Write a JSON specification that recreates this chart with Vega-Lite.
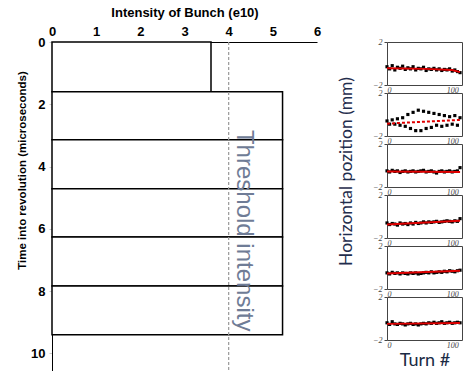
{
  "$schema": "https://vega.github.io/schema/vega-lite/v6.json",
  "padding": {"left": 16, "top": 6, "right": 0, "bottom": 0},
  "background": "white",
  "config": {"view": {"stroke": null}, "font": "Liberation Sans"},
  "spacing": 16,
  "datasets": {
    "bars": [
      {"start": 0, "end": 1.6, "intensity": 3.6},
      {"start": 1.6, "end": 3.14, "intensity": 5.22},
      {"start": 3.14, "end": 4.71, "intensity": 5.22},
      {"start": 4.71, "end": 6.26, "intensity": 5.22},
      {"start": 6.26, "end": 7.84, "intensity": 5.22},
      {"start": 7.84, "end": 9.4, "intensity": 5.22}
    ],
    "threshold": [{"value": 4, "label": "Threshold intensity"}],
    "pos": [
      {"p":1,"t":0,"x":-0.3},{"p":1,"t":4,"x":-0.5},{"p":1,"t":8,"x":-0.2},{"p":1,"t":12,"x":-0.6},{"p":1,"t":16,"x":-0.35},{"p":1,"t":20,"x":-0.45},{"p":1,"t":24,"x":-0.25},{"p":1,"t":28,"x":-0.55},{"p":1,"t":32,"x":-0.4},{"p":1,"t":36,"x":-0.5},{"p":1,"t":40,"x":-0.3},{"p":1,"t":44,"x":-0.6},{"p":1,"t":48,"x":-0.45},{"p":1,"t":52,"x":-0.5},{"p":1,"t":56,"x":-0.35},{"p":1,"t":60,"x":-0.65},{"p":1,"t":64,"x":-0.5},{"p":1,"t":68,"x":-0.55},{"p":1,"t":72,"x":-0.45},{"p":1,"t":76,"x":-0.6},{"p":1,"t":80,"x":-0.5},{"p":1,"t":84,"x":-0.65},{"p":1,"t":88,"x":-0.55},{"p":1,"t":92,"x":-0.6},{"p":1,"t":96,"x":-0.5},{"p":1,"t":100,"x":-0.7},{"p":1,"t":104,"x":-0.6},{"p":1,"t":108,"x":-0.75},{"p":1,"t":112,"x":-0.85},
      {"p":2,"t":0,"x":-0.6},{"p":2,"t":4,"x":-0.9},{"p":2,"t":8,"x":-0.5},{"p":2,"t":12,"x":-0.9},{"p":2,"t":16,"x":-0.4},{"p":2,"t":20,"x":-1.0},{"p":2,"t":24,"x":-0.3},{"p":2,"t":28,"x":-1.1},{"p":2,"t":32,"x":0.0},{"p":2,"t":36,"x":-1.3},{"p":2,"t":40,"x":0.2},{"p":2,"t":44,"x":-1.5},{"p":2,"t":48,"x":0.4},{"p":2,"t":52,"x":-1.5},{"p":2,"t":56,"x":0.3},{"p":2,"t":60,"x":-1.3},{"p":2,"t":64,"x":0.2},{"p":2,"t":68,"x":-1.2},{"p":2,"t":72,"x":0.1},{"p":2,"t":76,"x":-1.0},{"p":2,"t":80,"x":0.0},{"p":2,"t":84,"x":-1.1},{"p":2,"t":88,"x":-0.1},{"p":2,"t":92,"x":-1.0},{"p":2,"t":96,"x":-0.2},{"p":2,"t":100,"x":-0.9},{"p":2,"t":104,"x":-0.1},{"p":2,"t":108,"x":-1.0},{"p":2,"t":112,"x":-0.3},
      {"p":3,"t":0,"x":-0.5},{"p":3,"t":4,"x":-0.6},{"p":3,"t":8,"x":-0.45},{"p":3,"t":12,"x":-0.55},{"p":3,"t":16,"x":-0.5},{"p":3,"t":20,"x":-0.65},{"p":3,"t":24,"x":-0.55},{"p":3,"t":28,"x":-0.5},{"p":3,"t":32,"x":-0.6},{"p":3,"t":36,"x":-0.55},{"p":3,"t":40,"x":-0.5},{"p":3,"t":44,"x":-0.6},{"p":3,"t":48,"x":-0.55},{"p":3,"t":52,"x":-0.5},{"p":3,"t":56,"x":-0.45},{"p":3,"t":60,"x":-0.6},{"p":3,"t":64,"x":-0.55},{"p":3,"t":68,"x":-0.5},{"p":3,"t":72,"x":-0.6},{"p":3,"t":76,"x":-0.7},{"p":3,"t":80,"x":-0.55},{"p":3,"t":84,"x":-0.5},{"p":3,"t":88,"x":-0.6},{"p":3,"t":92,"x":-0.55},{"p":3,"t":96,"x":-0.5},{"p":3,"t":100,"x":-0.6},{"p":3,"t":104,"x":-0.55},{"p":3,"t":108,"x":-0.5},{"p":3,"t":112,"x":-0.2},
      {"p":4,"t":0,"x":-0.6},{"p":4,"t":4,"x":-0.75},{"p":4,"t":8,"x":-0.65},{"p":4,"t":12,"x":-0.7},{"p":4,"t":16,"x":-0.8},{"p":4,"t":20,"x":-0.6},{"p":4,"t":24,"x":-0.7},{"p":4,"t":28,"x":-0.65},{"p":4,"t":32,"x":-0.75},{"p":4,"t":36,"x":-0.6},{"p":4,"t":40,"x":-0.7},{"p":4,"t":44,"x":-0.55},{"p":4,"t":48,"x":-0.65},{"p":4,"t":52,"x":-0.6},{"p":4,"t":56,"x":-0.5},{"p":4,"t":60,"x":-0.6},{"p":4,"t":64,"x":-0.5},{"p":4,"t":68,"x":-0.55},{"p":4,"t":72,"x":-0.5},{"p":4,"t":76,"x":-0.45},{"p":4,"t":80,"x":-0.55},{"p":4,"t":84,"x":-0.5},{"p":4,"t":88,"x":-0.45},{"p":4,"t":92,"x":-0.4},{"p":4,"t":96,"x":-0.45},{"p":4,"t":100,"x":-0.5},{"p":4,"t":104,"x":-0.4},{"p":4,"t":108,"x":-0.45},{"p":4,"t":112,"x":-0.2},
      {"p":5,"t":0,"x":-0.5},{"p":5,"t":4,"x":-0.6},{"p":5,"t":8,"x":-0.45},{"p":5,"t":12,"x":-0.55},{"p":5,"t":16,"x":-0.5},{"p":5,"t":20,"x":-0.6},{"p":5,"t":24,"x":-0.5},{"p":5,"t":28,"x":-0.55},{"p":5,"t":32,"x":-0.6},{"p":5,"t":36,"x":-0.5},{"p":5,"t":40,"x":-0.55},{"p":5,"t":44,"x":-0.5},{"p":5,"t":48,"x":-0.6},{"p":5,"t":52,"x":-0.55},{"p":5,"t":56,"x":-0.5},{"p":5,"t":60,"x":-0.45},{"p":5,"t":64,"x":-0.5},{"p":5,"t":68,"x":-0.4},{"p":5,"t":72,"x":-0.5},{"p":5,"t":76,"x":-0.45},{"p":5,"t":80,"x":-0.4},{"p":5,"t":84,"x":-0.45},{"p":5,"t":88,"x":-0.35},{"p":5,"t":92,"x":-0.4},{"p":5,"t":96,"x":-0.3},{"p":5,"t":100,"x":-0.35},{"p":5,"t":104,"x":-0.4},{"p":5,"t":108,"x":-0.3},{"p":5,"t":112,"x":-0.25},
      {"p":6,"t":0,"x":-0.4},{"p":6,"t":4,"x":-0.55},{"p":6,"t":8,"x":-0.3},{"p":6,"t":12,"x":-0.5},{"p":6,"t":16,"x":-0.55},{"p":6,"t":20,"x":-0.45},{"p":6,"t":24,"x":-0.5},{"p":6,"t":28,"x":-0.6},{"p":6,"t":32,"x":-0.5},{"p":6,"t":36,"x":-0.45},{"p":6,"t":40,"x":-0.55},{"p":6,"t":44,"x":-0.5},{"p":6,"t":48,"x":-0.6},{"p":6,"t":52,"x":-0.5},{"p":6,"t":56,"x":-0.45},{"p":6,"t":60,"x":-0.5},{"p":6,"t":64,"x":-0.4},{"p":6,"t":68,"x":-0.45},{"p":6,"t":72,"x":-0.35},{"p":6,"t":76,"x":-0.45},{"p":6,"t":80,"x":-0.4},{"p":6,"t":84,"x":-0.3},{"p":6,"t":88,"x":-0.45},{"p":6,"t":92,"x":-0.4},{"p":6,"t":96,"x":-0.35},{"p":6,"t":100,"x":-0.45},{"p":6,"t":104,"x":-0.4},{"p":6,"t":108,"x":-0.35},{"p":6,"t":112,"x":-0.4}
    ],
    "fit": [
      {"p":1,"t":0,"y":-0.45},{"p":1,"t":60,"y":-0.5},{"p":1,"t":100,"y":-0.6},{"p":1,"t":112,"y":-0.8},
      {"p":2,"t":0,"y":-0.85},{"p":2,"t":112,"y":-0.5},
      {"p":3,"t":0,"y":-0.55},{"p":3,"t":112,"y":-0.6},
      {"p":4,"t":0,"y":-0.75},{"p":4,"t":112,"y":-0.4},
      {"p":5,"t":0,"y":-0.55},{"p":5,"t":112,"y":-0.3},
      {"p":6,"t":0,"y":-0.5},{"p":6,"t":112,"y":-0.42}
    ]
  },
  "hconcat": [
    {
      "width": 265,
      "height": 330,
      "layer": [
        {
          "data": {"name": "bars"},
          "mark": {"type": "rect", "fill": "white", "stroke": "black", "strokeWidth": 1.5},
          "encoding": {
            "x": {"field": "intensity", "type": "quantitative",
              "scale": {"domain": [0, 6], "nice": false},
              "axis": {"orient": "top", "values": [0,1,2,3,4,5,6], "title": "Intensity of Bunch (e10)",
                "titleFontSize": 13, "titleFontWeight": "bold", "titleColor": "black", "titlePadding": 6,
                "labelFontSize": 13, "labelFontWeight": "bold", "labelColor": "black", "labelFlush": false,
                "ticks": false, "labelPadding": 4, "grid": false, "domainColor": "black"}},
            "x2": {"datum": 0},
            "y": {"field": "start", "type": "quantitative",
              "scale": {"domain": [0, 10.6], "reverse": true, "nice": false},
              "axis": {"values": [0,2,4,6,8,10], "title": "Time into revolution (microseconds)",
                "titleFontSize": 11.5, "titleFontWeight": "bold", "titleColor": "black", "titlePadding": 3, "titleY": 128,
                "labelFontSize": 13, "labelFontWeight": "bold", "labelColor": "black",
                "tickSize": 3, "tickColor": "#cccccc", "labelPadding": 4, "grid": false, "domainColor": "black"}},
            "y2": {"field": "end"}
          }
        },
        {
          "data": {"name": "threshold"},
          "mark": {"type": "rule", "strokeDash": [3, 2], "color": "#999999", "strokeWidth": 1.2},
          "encoding": {"x": {"field": "value", "type": "quantitative"}}
        },
        {
          "data": {"name": "threshold"},
          "mark": {"type": "text", "angle": 90, "fontSize": 24, "color": "#6f7c96", "align": "center", "baseline": "alphabetic"},
          "encoding": {
            "x": {"datum": 4.19, "type": "quantitative"},
            "y": {"datum": 6.06, "type": "quantitative"},
            "text": {"field": "label"}
          }
        }
      ]
    },
    {
      "spacing": 8,
      "bounds": "flush",
      "vconcat": [
        {
          "width": 75, "height": 43, "view": {"stroke": "#444444"},
          "layer": [
            {"data": {"name": "pos"}, "transform": [{"filter": "datum.p == 1"}], "mark": {"type": "square", "size": 10, "color": "black", "opacity": 1},
              "encoding": {
                "x": {"field": "t", "type": "quantitative", "scale": {"domain": [0, 115], "nice": false},
                  "axis": {"values": [0, 100], "title": null, "labelFont": "Liberation Serif", "labelFontStyle": "italic", "labelFontSize": 8, "labelColor": "#444444", "ticks": false, "domain": false, "grid": false, "labelPadding": 1}},
                "y": {"field": "x", "type": "quantitative", "scale": {"domain": [-2, 2], "nice": false},
                  "axis": {"values": [-2, 0, 2], "title": null, "labelFont": "Liberation Serif", "labelFontStyle": "italic", "labelFontSize": 8, "labelColor": "#444444", "tickSize": 3, "tickColor": "#444444", "domain": false, "grid": false, "labelPadding": 2}}
              }},
            {"data": {"name": "fit"}, "transform": [{"filter": "datum.p == 1"}], "mark": {"type": "line", "color": "#e00000", "strokeWidth": 2},
              "encoding": {"x": {"field": "t", "type": "quantitative"}, "y": {"field": "y", "type": "quantitative"}}}
          ]
        },
        {
          "width": 75, "height": 43, "view": {"stroke": "#444444"},
          "layer": [
            {"data": {"name": "pos"}, "transform": [{"filter": "datum.p == 2"}], "mark": {"type": "square", "size": 10, "color": "black", "opacity": 1},
              "encoding": {
                "x": {"field": "t", "type": "quantitative", "scale": {"domain": [0, 115], "nice": false},
                  "axis": {"values": [0, 100], "title": null, "labelFont": "Liberation Serif", "labelFontStyle": "italic", "labelFontSize": 8, "labelColor": "#444444", "ticks": false, "domain": false, "grid": false, "labelPadding": 1}},
                "y": {"field": "x", "type": "quantitative", "scale": {"domain": [-2, 2], "nice": false},
                  "axis": {"values": [-2, 0, 2], "title": null, "labelFont": "Liberation Serif", "labelFontStyle": "italic", "labelFontSize": 8, "labelColor": "#444444", "tickSize": 3, "tickColor": "#444444", "domain": false, "grid": false, "labelPadding": 2}}
              }},
            {"data": {"name": "fit"}, "transform": [{"filter": "datum.p == 2"}], "mark": {"type": "line", "color": "#e00000", "strokeWidth": 2, "strokeDash": [3, 2]},
              "encoding": {"x": {"field": "t", "type": "quantitative"}, "y": {"field": "y", "type": "quantitative"}}}
          ]
        },
        {
          "width": 75, "height": 43, "view": {"stroke": "#444444"},
          "layer": [
            {"data": {"name": "pos"}, "transform": [{"filter": "datum.p == 3"}], "mark": {"type": "square", "size": 10, "color": "black", "opacity": 1},
              "encoding": {
                "x": {"field": "t", "type": "quantitative", "scale": {"domain": [0, 115], "nice": false},
                  "axis": {"values": [0, 100], "title": null, "labelFont": "Liberation Serif", "labelFontStyle": "italic", "labelFontSize": 8, "labelColor": "#444444", "ticks": false, "domain": false, "grid": false, "labelPadding": 1}},
                "y": {"field": "x", "type": "quantitative", "scale": {"domain": [-2, 2], "nice": false},
                  "axis": {"values": [-2, 0, 2], "title": "Horizontal pozition (mm)", "titleFont": "Lato", "titleFontSize": 17.5, "titleFontWeight": "normal", "titleColor": "#1f2d4d", "titleY": 27, "titlePadding": 17, "labelFont": "Liberation Serif", "labelFontStyle": "italic", "labelFontSize": 8, "labelColor": "#444444", "tickSize": 3, "tickColor": "#444444", "domain": false, "grid": false, "labelPadding": 2}}
              }},
            {"data": {"name": "fit"}, "transform": [{"filter": "datum.p == 3"}], "mark": {"type": "line", "color": "#e00000", "strokeWidth": 2},
              "encoding": {"x": {"field": "t", "type": "quantitative"}, "y": {"field": "y", "type": "quantitative"}}}
          ]
        },
        {
          "width": 75, "height": 43, "view": {"stroke": "#444444"},
          "layer": [
            {"data": {"name": "pos"}, "transform": [{"filter": "datum.p == 4"}], "mark": {"type": "square", "size": 10, "color": "black", "opacity": 1},
              "encoding": {
                "x": {"field": "t", "type": "quantitative", "scale": {"domain": [0, 115], "nice": false},
                  "axis": {"values": [0, 100], "title": null, "labelFont": "Liberation Serif", "labelFontStyle": "italic", "labelFontSize": 8, "labelColor": "#444444", "ticks": false, "domain": false, "grid": false, "labelPadding": 1}},
                "y": {"field": "x", "type": "quantitative", "scale": {"domain": [-2, 2], "nice": false},
                  "axis": {"values": [-2, 0, 2], "title": null, "labelFont": "Liberation Serif", "labelFontStyle": "italic", "labelFontSize": 8, "labelColor": "#444444", "tickSize": 3, "tickColor": "#444444", "domain": false, "grid": false, "labelPadding": 2}}
              }},
            {"data": {"name": "fit"}, "transform": [{"filter": "datum.p == 4"}], "mark": {"type": "line", "color": "#e00000", "strokeWidth": 2},
              "encoding": {"x": {"field": "t", "type": "quantitative"}, "y": {"field": "y", "type": "quantitative"}}}
          ]
        },
        {
          "width": 75, "height": 43, "view": {"stroke": "#444444"},
          "layer": [
            {"data": {"name": "pos"}, "transform": [{"filter": "datum.p == 5"}], "mark": {"type": "square", "size": 10, "color": "black", "opacity": 1},
              "encoding": {
                "x": {"field": "t", "type": "quantitative", "scale": {"domain": [0, 115], "nice": false},
                  "axis": {"values": [0, 100], "title": null, "labelFont": "Liberation Serif", "labelFontStyle": "italic", "labelFontSize": 8, "labelColor": "#444444", "ticks": false, "domain": false, "grid": false, "labelPadding": 1}},
                "y": {"field": "x", "type": "quantitative", "scale": {"domain": [-2, 2], "nice": false},
                  "axis": {"values": [-2, 0, 2], "title": null, "labelFont": "Liberation Serif", "labelFontStyle": "italic", "labelFontSize": 8, "labelColor": "#444444", "tickSize": 3, "tickColor": "#444444", "domain": false, "grid": false, "labelPadding": 2}}
              }},
            {"data": {"name": "fit"}, "transform": [{"filter": "datum.p == 5"}], "mark": {"type": "line", "color": "#e00000", "strokeWidth": 2},
              "encoding": {"x": {"field": "t", "type": "quantitative"}, "y": {"field": "y", "type": "quantitative"}}}
          ]
        },
        {
          "width": 75, "height": 43, "view": {"stroke": "#444444"},
          "layer": [
            {"data": {"name": "pos"}, "transform": [{"filter": "datum.p == 6"}], "mark": {"type": "square", "size": 10, "color": "black", "opacity": 1},
              "encoding": {
                "x": {"field": "t", "type": "quantitative", "scale": {"domain": [0, 115], "nice": false},
                  "axis": {"values": [0, 100], "title": "Turn #", "titleFont": "Lato", "titleFontSize": 18, "titleFontWeight": "normal", "titleColor": "#1a2a44", "titlePadding": 2, "labelFont": "Liberation Serif", "labelFontStyle": "italic", "labelFontSize": 8, "labelColor": "#444444", "ticks": false, "domain": false, "grid": false, "labelPadding": 1}},
                "y": {"field": "x", "type": "quantitative", "scale": {"domain": [-2, 2], "nice": false},
                  "axis": {"values": [-2, 0, 2], "title": null, "labelFont": "Liberation Serif", "labelFontStyle": "italic", "labelFontSize": 8, "labelColor": "#444444", "tickSize": 3, "tickColor": "#444444", "domain": false, "grid": false, "labelPadding": 2}}
              }},
            {"data": {"name": "fit"}, "transform": [{"filter": "datum.p == 6"}], "mark": {"type": "line", "color": "#e00000", "strokeWidth": 2},
              "encoding": {"x": {"field": "t", "type": "quantitative"}, "y": {"field": "y", "type": "quantitative"}}}
          ]
        }
      ]
    }
  ]
}
